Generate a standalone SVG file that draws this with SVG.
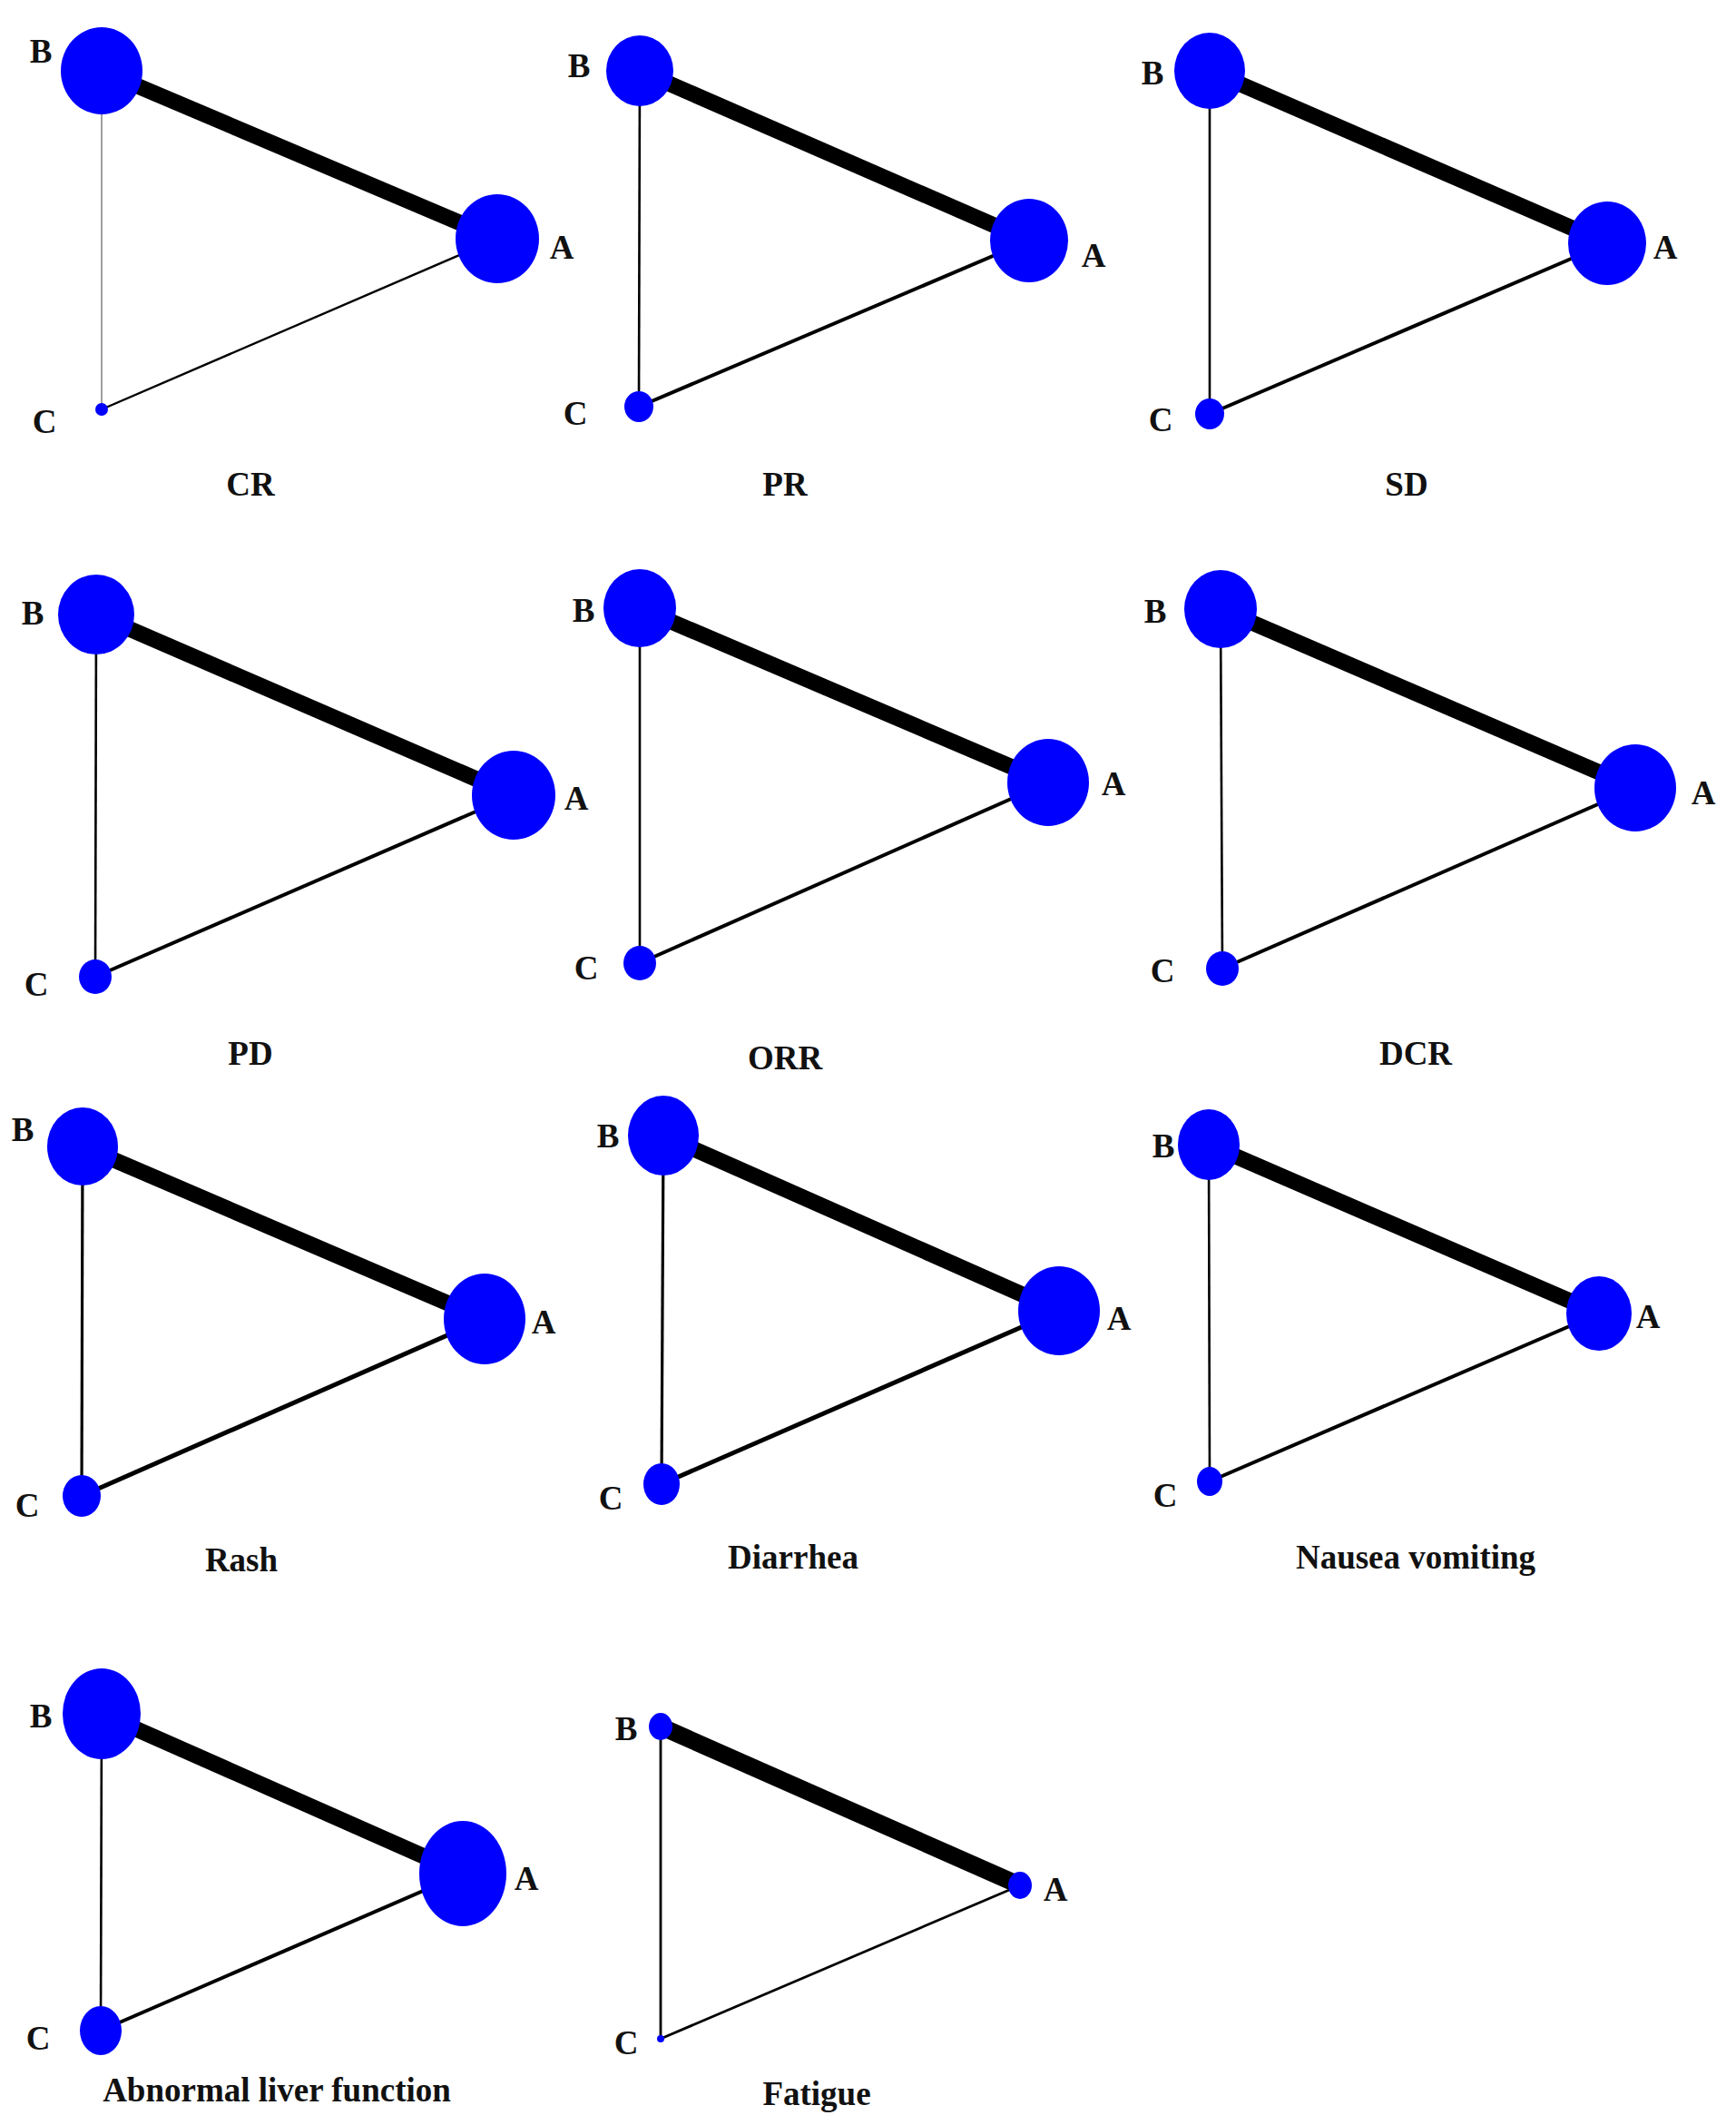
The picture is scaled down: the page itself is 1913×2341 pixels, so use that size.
<svg xmlns="http://www.w3.org/2000/svg" width="1913" height="2341" viewBox="0 0 1913 2341">
<style>
.n{fill:#0000ff}
.t{font-family:"Liberation Serif","Times New Roman",serif;font-weight:bold;font-size:37px;fill:#111}
.m{text-anchor:middle}
.e{stroke:#000;fill:none;stroke-linecap:butt}
.thick{stroke-width:17.5}
.bc{stroke-width:2.6}
.ca{stroke-width:4}
</style>
<rect width="1913" height="2341" fill="#fff"/>

<!-- Panel 1: CR -->
<g id="panel-CR">
<g id="CR-edges">
<line class="e thick" x1="112" y1="78" x2="548" y2="263"/>
<line class="e" stroke-width="1.4" style="stroke:#777" x1="112" y1="78" x2="112" y2="451"/>
<line class="e" stroke-width="2.4" x1="112" y1="451" x2="548" y2="263"/>
</g>
<g id="CR-B"><ellipse class="n" cx="112" cy="78" rx="45" ry="48"/><text class="t m" x="45" y="69">B</text></g>
<g id="CR-A"><ellipse class="n" cx="548" cy="263" rx="46" ry="49"/><text class="t m" x="619" y="285">A</text></g>
<g id="CR-C"><circle class="n" cx="112" cy="451" r="7"/><text class="t m" x="49" y="477">C</text></g>
<text class="t m" x="276" y="546">CR</text>
</g>

<!-- Panel 2: PR -->
<g id="panel-PR">
<g id="PR-edges">
<line class="e thick" x1="705" y1="78" x2="1134" y2="265"/>
<line class="e bc" x1="705" y1="78" x2="704" y2="448"/>
<line class="e ca" x1="704" y1="448" x2="1134" y2="265"/>
</g>
<g id="PR-B"><ellipse class="n" cx="705" cy="78" rx="37" ry="39"/><text class="t m" x="638" y="85">B</text></g>
<g id="PR-A"><ellipse class="n" cx="1134" cy="265" rx="43" ry="46"/><text class="t m" x="1205" y="294">A</text></g>
<g id="PR-C"><ellipse class="n" cx="704" cy="448" rx="16" ry="17"/><text class="t m" x="634" y="468">C</text></g>
<text class="t m" x="865" y="546">PR</text>
</g>

<!-- Panel 3: SD -->
<g id="panel-SD">
<g id="SD-edges">
<line class="e thick" x1="1333" y1="78" x2="1771" y2="268"/>
<line class="e bc" x1="1333" y1="78" x2="1333" y2="456"/>
<line class="e ca" x1="1333" y1="456" x2="1771" y2="268"/>
</g>
<g id="SD-B"><ellipse class="n" cx="1333" cy="78" rx="39" ry="42"/><text class="t m" x="1270" y="93">B</text></g>
<g id="SD-A"><ellipse class="n" cx="1771" cy="268" rx="43" ry="46"/><text class="t m" x="1835" y="285">A</text></g>
<g id="SD-C"><ellipse class="n" cx="1333" cy="456" rx="16" ry="17"/><text class="t m" x="1279" y="475">C</text></g>
<text class="t m" x="1550" y="546">SD</text>
</g>

<!-- Panel 4: PD -->
<g id="panel-PD">
<g id="PD-edges">
<line class="e thick" x1="106" y1="677" x2="566" y2="876"/>
<line class="e bc" x1="106" y1="677" x2="105" y2="1076"/>
<line class="e ca" x1="105" y1="1076" x2="566" y2="876"/>
</g>
<g id="PD-B"><ellipse class="n" cx="106" cy="677" rx="42" ry="44"/><text class="t m" x="36" y="688">B</text></g>
<g id="PD-A"><ellipse class="n" cx="566" cy="876" rx="46" ry="49"/><text class="t m" x="635" y="892">A</text></g>
<g id="PD-C"><ellipse class="n" cx="105" cy="1076" rx="18" ry="19"/><text class="t m" x="40" y="1097">C</text></g>
<text class="t m" x="276" y="1173">PD</text>
</g>

<!-- Panel 5: ORR -->
<g id="panel-ORR">
<g id="ORR-edges">
<line class="e thick" x1="705" y1="670" x2="1155" y2="862"/>
<line class="e bc" x1="705" y1="670" x2="705" y2="1061"/>
<line class="e ca" x1="705" y1="1061" x2="1155" y2="862"/>
</g>
<g id="ORR-B"><ellipse class="n" cx="705" cy="670" rx="40" ry="43"/><text class="t m" x="643" y="685">B</text></g>
<g id="ORR-A"><ellipse class="n" cx="1155" cy="862" rx="45" ry="48"/><text class="t m" x="1227" y="876">A</text></g>
<g id="ORR-C"><ellipse class="n" cx="705" cy="1061" rx="18" ry="19"/><text class="t m" x="646" y="1079">C</text></g>
<text class="t m" x="865" y="1178">ORR</text>
</g>

<!-- Panel 6: DCR -->
<g id="panel-DCR">
<g id="DCR-edges">
<line class="e thick" x1="1345" y1="671" x2="1802" y2="868"/>
<line class="e bc" x1="1345" y1="671" x2="1347" y2="1067"/>
<line class="e ca" x1="1347" y1="1067" x2="1802" y2="868"/>
</g>
<g id="DCR-B"><ellipse class="n" cx="1345" cy="671" rx="40" ry="43"/><text class="t m" x="1273" y="686">B</text></g>
<g id="DCR-A"><ellipse class="n" cx="1802" cy="868" rx="45" ry="48"/><text class="t m" x="1877" y="886">A</text></g>
<g id="DCR-C"><ellipse class="n" cx="1347" cy="1067" rx="18" ry="19"/><text class="t m" x="1281" y="1082">C</text></g>
<text class="t m" x="1560" y="1173">DCR</text>
</g>

<!-- Panel 7: Rash -->
<g id="panel-Rash">
<g id="Rash-edges">
<line class="e thick" x1="91" y1="1263" x2="534" y2="1453"/>
<line class="e" stroke-width="3.2" x1="91" y1="1263" x2="90" y2="1648"/>
<line class="e" stroke-width="5" x1="90" y1="1648" x2="534" y2="1453"/>
</g>
<g id="Rash-B"><ellipse class="n" cx="91" cy="1263" rx="39" ry="43"/><text class="t m" x="25" y="1257">B</text></g>
<g id="Rash-A"><ellipse class="n" cx="534" cy="1453" rx="45" ry="50"/><text class="t m" x="599" y="1469">A</text></g>
<g id="Rash-C"><ellipse class="n" cx="90" cy="1648" rx="21" ry="23"/><text class="t m" x="30" y="1671">C</text></g>
<text class="t m" x="266" y="1731">Rash</text>
</g>

<!-- Panel 8: Diarrhea -->
<g id="panel-Diarrhea">
<g id="Diarrhea-edges">
<line class="e thick" x1="731" y1="1251" x2="1167" y2="1444"/>
<line class="e" stroke-width="3.2" x1="731" y1="1251" x2="729" y2="1635"/>
<line class="e" stroke-width="5" x1="729" y1="1635" x2="1167" y2="1444"/>
</g>
<g id="Diarrhea-B"><ellipse class="n" cx="731" cy="1251" rx="39" ry="44"/><text class="t m" x="670" y="1264">B</text></g>
<g id="Diarrhea-A"><ellipse class="n" cx="1167" cy="1444" rx="45" ry="49"/><text class="t m" x="1233" y="1465">A</text></g>
<g id="Diarrhea-C"><ellipse class="n" cx="729" cy="1635" rx="20" ry="23"/><text class="t m" x="673" y="1663">C</text></g>
<text class="t m" x="874" y="1728">Diarrhea</text>
</g>

<!-- Panel 9: Nausea vomiting -->
<g id="panel-Nausea">
<g id="Nausea-edges">
<line class="e thick" x1="1332" y1="1261" x2="1762" y2="1447"/>
<line class="e bc" x1="1332" y1="1261" x2="1333" y2="1632"/>
<line class="e ca" x1="1333" y1="1632" x2="1762" y2="1447"/>
</g>
<g id="Nausea-B"><ellipse class="n" cx="1332" cy="1261" rx="34" ry="39"/><text class="t m" x="1282" y="1275">B</text></g>
<g id="Nausea-A"><ellipse class="n" cx="1762" cy="1447" rx="36" ry="41"/><text class="t m" x="1816" y="1463">A</text></g>
<g id="Nausea-C"><ellipse class="n" cx="1333" cy="1632" rx="14" ry="16"/><text class="t m" x="1284" y="1660">C</text></g>
<text class="t m" x="1560" y="1728">Nausea vomiting</text>
</g>

<!-- Panel 10: Abnormal liver function -->
<g id="panel-Liver">
<g id="Liver-edges">
<line class="e thick" x1="112" y1="1888" x2="510" y2="2064"/>
<line class="e bc" x1="112" y1="1888" x2="111" y2="2237"/>
<line class="e ca" x1="111" y1="2237" x2="510" y2="2064"/>
</g>
<g id="Liver-B"><ellipse class="n" cx="112" cy="1888" rx="43" ry="50"/><text class="t m" x="45" y="1903">B</text></g>
<g id="Liver-A"><ellipse class="n" cx="510" cy="2064" rx="48" ry="58"/><text class="t m" x="580" y="2082">A</text></g>
<g id="Liver-C"><ellipse class="n" cx="111" cy="2237" rx="23" ry="27"/><text class="t m" x="42" y="2258">C</text></g>
<text class="t m" x="305" y="2315">Abnormal liver function</text>
</g>

<!-- Panel 11: Fatigue -->
<g id="panel-Fatigue">
<g id="Fatigue-edges">
<line class="e" stroke-width="19" x1="728" y1="1902" x2="1124" y2="2077"/>
<line class="e" stroke-width="2.8" x1="728" y1="1902" x2="728" y2="2246"/>
<line class="e" stroke-width="2.8" x1="728" y1="2246" x2="1124" y2="2077"/>
</g>
<g id="Fatigue-B"><ellipse class="n" cx="728" cy="1902" rx="13" ry="15"/><text class="t m" x="690" y="1917">B</text></g>
<g id="Fatigue-A"><ellipse class="n" cx="1124" cy="2077" rx="13" ry="15"/><text class="t m" x="1163" y="2094">A</text></g>
<g id="Fatigue-C"><circle class="n" cx="728" cy="2246" r="4"/><text class="t m" x="690" y="2263">C</text></g>
<text class="t m" x="900" y="2319">Fatigue</text>
</g>
</svg>
